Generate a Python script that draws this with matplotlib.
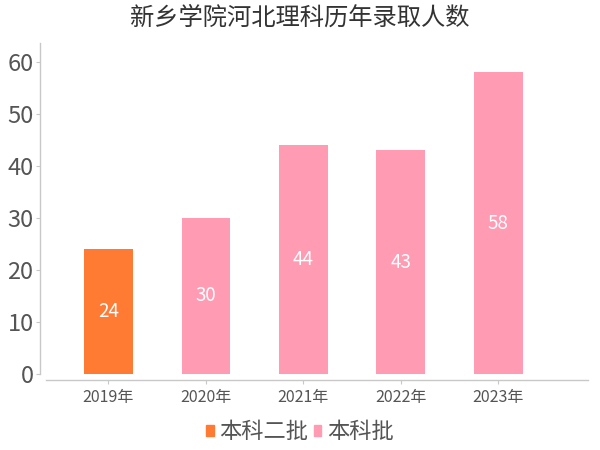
import matplotlib
matplotlib.use("Agg")
import matplotlib.pyplot as plt
from matplotlib.patches import Patch

plt.rcParams['font.family'] = ['Noto Sans CJK SC', 'DejaVu Sans']

years = ["2019年", "2020年", "2021年", "2022年", "2023年"]
values = [24, 30, 44, 43, 58]
batches = ["本科二批", "本科批", "本科批", "本科批", "本科批"]
batch_names = ["本科二批", "本科批"]
batch_colors = {"本科二批": "#FF7A33", "本科批": "#FF9BB3"}
title = "新乡学院河北理科历年录取人数"

fig = plt.figure(figsize=(6, 4.5), dpi=100)
ax = fig.add_axes([46/600, 1-374/450, (588-46)/600, (374-43)/450])

x = list(range(len(years)))
colors = [batch_colors[b] for b in batches]
bars = ax.bar(x, values, width=0.5, color=colors, zorder=2)
for xi, v in zip(x, values):
    ax.text(xi, v/2, str(v), ha='center', va='center', color='white', fontsize=13.5)

ax.set_xlim(-0.64, 4.92)
ax.set_ylim(0, 63.6)
ax.set_yticks([0, 10, 20, 30, 40, 50, 60])
ax.set_xticks(x)
ax.set_xticklabels(years)

for s in ['top', 'right']:
    ax.spines[s].set_visible(False)
ax.spines['left'].set_position(('outward', 4))
ax.spines['bottom'].set_position(('outward', 4))
for s in ['left', 'bottom']:
    ax.spines[s].set_color('#c8c8c8')
    ax.spines[s].set_linewidth(1)

ax.tick_params(axis='y', colors='#c8c8c8', labelcolor='#555555', labelsize=17, length=3, pad=2)
ax.tick_params(axis='x', colors='#c8c8c8', labelcolor='#555555', labelsize=11.5, length=3, pad=4)

fig.text(0.5, 1-18/450, title, ha='center', va='center', fontsize=17.5, color='#333333')

handles = [Patch(color=batch_colors[n], label=n) for n in batch_names]
leg = fig.legend(handles=handles, loc='center', bbox_to_anchor=(0.5, 1-432/450), ncol=2,
                 frameon=False, fontsize=16, handlelength=0.33, handleheight=0.33,
                 handletextpad=0.25, columnspacing=0.25, borderpad=0)
for t in leg.get_texts():
    t.set_color('#555555')

fig.savefig("out.png", dpi=100)
